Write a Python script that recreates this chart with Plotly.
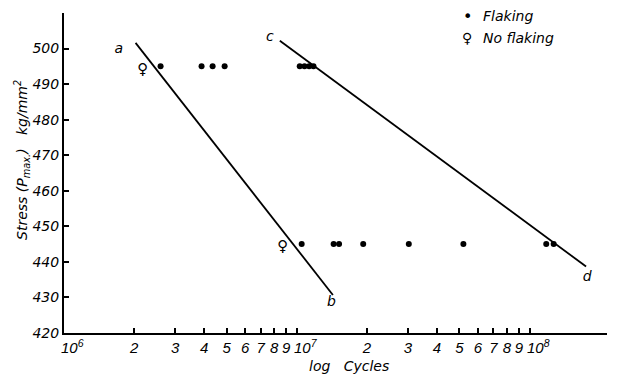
import math
import plotly.graph_objects as go

# ---- data ----
flaking_495_cycles = [2.6e6, 3.9e6, 4.35e6, 4.9e6, 1.03e7, 1.08e7, 1.13e7, 1.18e7]
flaking_495_stress = [495, 495, 495, 495, 495, 495, 495, 495]
flaking_445_cycles = [1.05e7, 1.44e7, 1.52e7, 1.93e7, 3.03e7, 5.2e7, 1.18e8, 1.27e8]
flaking_445_stress = [445, 445, 445, 445, 445, 445, 445, 445]
noflaking_cycles = [2.18e6, 8.7e6]
noflaking_stress = [494, 444]
line_ab_cycles = [2.03e6, 1.43e7]
line_ab_stress = [501.6, 430.7]
line_cd_cycles = [8.46e6, 1.75e8]
line_cd_stress = [502.2, 438.7]
line_labels = ["a", "b", "c", "d"]
label_cycles = [1.72e6, 1.41e7, 7.66e6, 1.77e8]
label_stress = [499.7, 428.5, 503.1, 435.5]
y_ticks = [420, 430, 440, 450, 460, 470, 480, 490, 500]
x_tickvals = [1e6, 2e6, 3e6, 4e6, 5e6, 6e6, 7e6, 8e6, 9e6,
              1e7, 2e7, 3e7, 4e7, 5e7, 6e7, 7e7, 8e7, 9e7, 1e8]
x_ticktext = ["", "2", "3", "4", "5", "6", "7", "8", "9",
              "", "2", "3", "4", "5", "6", "7", "8", "9", ""]
decade_vals = [1e6, 1e7, 1e8]
decade_text = ["10<sup>6</sup>", "10<sup>7</sup>", "10<sup>8</sup>"]

FONT = "DejaVu Sans"
ifont = dict(family=FONT, size=14, color="black", style="italic")
xfont = dict(family="Liberation Sans", size=15, color="black", style="italic")

fig = go.Figure()
fig.add_trace(go.Scatter(x=line_ab_cycles, y=line_ab_stress, mode="lines",
                         line=dict(color="black", width=1.8), showlegend=False))
fig.add_trace(go.Scatter(x=line_cd_cycles, y=line_cd_stress, mode="lines",
                         line=dict(color="black", width=1.8), showlegend=False))
fig.add_trace(go.Scatter(x=flaking_495_cycles + flaking_445_cycles,
                         y=flaking_495_stress + flaking_445_stress,
                         mode="markers", marker=dict(color="black", size=6),
                         showlegend=False))
fig.add_trace(go.Scatter(x=noflaking_cycles, y=noflaking_stress, mode="text",
                         text=["♀"] * len(noflaking_cycles),
                         textfont=dict(family=FONT, size=15, color="black"),
                         showlegend=False))
fig.add_trace(go.Scatter(x=label_cycles, y=label_stress, mode="text",
                         text=line_labels, textfont=ifont, showlegend=False))

fig.update_xaxes(type="log", range=[6, 8.333], tickmode="array",
                 tickvals=x_tickvals, ticktext=x_ticktext, tickangle=0,
                 automargin=False,
                 ticks="inside", ticklen=5, tickwidth=1.5, tickcolor="black",
                 showline=True, linecolor="black", linewidth=2,
                 showgrid=False, zeroline=False, tickfont=xfont)
fig.update_yaxes(range=[420, 510], tickmode="array", tickvals=y_ticks,
                 tickangle=0, automargin=False,
                 ticks="inside", ticklen=5, tickwidth=1.5, tickcolor="black",
                 showline=True, linecolor="black", linewidth=2,
                 showgrid=False, zeroline=False, tickfont=ifont)

L, R, T, B = 64, 14, 13, 41
W, H = 621, 374
pw, ph = W - L - R, H - T - B

def px(x):
    return (x - L) / pw

def py(y):
    return (H - B - y) / ph

ann = [
    dict(x=px(22), y=py(160), text="Stress (P<sub>max.</sub>)   kg/mm<sup>2</sup>",
         textangle=-90, font=ifont),
    dict(x=px(349), y=py(366), text="log   Cycles", font=ifont),
    dict(x=px(467), y=py(17), text="•", font=dict(family=FONT, size=16, color="black")),
    dict(x=px(481), y=py(16), text="Flaking", xanchor="left", font=ifont),
    dict(x=px(467), y=py(38), text="♀", font=dict(family=FONT, size=14, color="black")),
    dict(x=px(481), y=py(38), text="No flaking", xanchor="left", font=ifont),
]
for a in ann:
    a.update(xref="paper", yref="paper", showarrow=False)
    a.setdefault("xanchor", "center")
    a.setdefault("yanchor", "middle")
# decade tick labels, placed on the log axis just right of their ticks
for v, t in zip(decade_vals, decade_text):
    ann.append(dict(x=math.log10(v), xref="x", y=0, yref="paper", text=t,
                    xanchor="left", yanchor="top", xshift=-5, yshift=-2,
                    showarrow=False, font=xfont))
fig.update_layout(annotations=ann)

fig.update_layout(width=W, height=H, margin=dict(l=L, r=R, t=T, b=B, autoexpand=False),
                  paper_bgcolor="white", plot_bgcolor="white",
                  font=dict(family=FONT, color="black"))
fig.write_html("out.html", config={"displayModeBar": False},
               post_script="document.body.style.margin='0';document.body.style.overflow='hidden';")
